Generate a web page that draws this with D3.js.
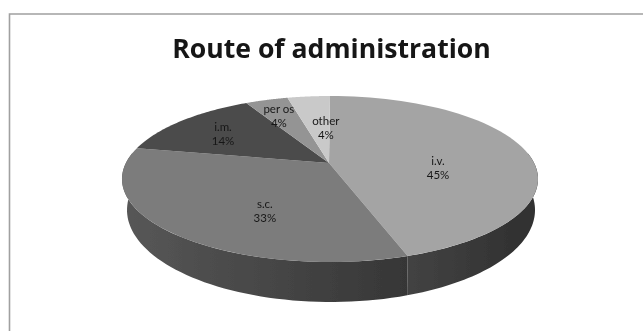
<!DOCTYPE html>
<html><head><meta charset="utf-8">
<script src="https://cdn.jsdelivr.net/npm/d3@7"></script>
<style>html,body{margin:0;padding:0;background:#fff;overflow:hidden}</style>
</head><body><script>
const title = "Route of administration";
const routes = ["i.v.", "s.c.", "i.m.", "per os", "other"];
const shares = [45, 33, 14, 4, 4];
const topColors = ["#a4a4a4", "#7b7b7b", "#4c4c4c", "#949494", "#c9c9c9"];
const sideStops = [["#434343", "#303030"], ["#565656", "#363636"]];
const labelReach = [0.54, 0.56, 0.62, 0.74, 0.5];
const labelNudge = [[3, 12], [24, 9], [-15, -3], [-4, 0], [7, -2]];

const W = 643, H = 331;
const svg = d3.select("body").append("svg").attr("width", W).attr("height", H)
  .style("display", "block").style("font-family", "Lato,sans-serif");
const defs = svg.append("defs");
const blur = defs.append("filter").attr("id", "soft").attr("x", "-5%").attr("y", "-5%").attr("width", "110%").attr("height", "110%");
blur.append("feGaussianBlur").attr("stdDeviation", 0.7);
const blurText = defs.append("filter").attr("id", "softText");
blurText.append("feGaussianBlur").attr("stdDeviation", 0.45);

svg.append("path").attr("d", `M9.5,${H}V14H${W}`).attr("fill", "none").attr("stroke", "#a0a0a0").attr("stroke-width", 1.6);
svg.append("text").attr("x", 331.5).attr("y", 58).attr("text-anchor", "middle").style("font-family", "'Open Sans',sans-serif")
  .attr("font-size", 26.6).attr("font-weight", 700).attr("fill", "#141414").attr("filter", "url(#softText)").text(title);

// unit-disc scales for the top rim and the lower rim of the drum
const topX = d3.scaleLinear().domain([-1, 1]).range([122, 538]);
const topY = d3.scaleLinear().domain([-1, 1]).range([96, 262]);
const lowX = d3.scaleLinear().domain([-1, 1]).range([127, 535]);
const lowY = d3.scaleLinear().domain([-1, 1]).range([118, 302]);

// perspective: a disc angle (0 = top, clockwise) maps onto the drawn ellipse with the hub moved upward
const hubShift = 0.1;
function rim(theta) {
  const re = Math.sin(theta), im = -Math.cos(theta), a = hubShift;
  const nr = re, ni = im - a;
  const Dr = 1 - a * im, Di = a * re;
  const m = Dr * Dr + Di * Di;
  return [(nr * Dr + ni * Di) / m, (ni * Dr - nr * Di) / m];
}
const hub = [topX(0) - 1, 163];

const pie = d3.pie().sort(null).startAngle(0).endAngle(2 * Math.PI);
const arcs = pie(shares);

function sweep(a0, a1) { return d3.range(0, 61).map(i => a0 + (a1 - a0) * i / 60); }

// side wall: visible where the rim runs along the front half
const frontStart = Math.PI / 2, frontEnd = 1.5 * Math.PI;
const side = svg.append("g").attr("filter", "url(#soft)");
const line = d3.line();
arcs.forEach((d, i) => {
  const a0 = Math.max(d.startAngle, frontStart - 0.12), a1 = Math.min(d.endAngle, frontEnd + 0.12);
  if (a1 <= a0) return;
  const gid = "wall" + i;
  const pair = sideStops[i] || sideStops[0];
  const g = defs.append("linearGradient").attr("id", gid).attr("gradientUnits", "userSpaceOnUse")
    .attr("x1", topX(rim(a1)[0])).attr("x2", topX(rim(a0)[0])).attr("y1", 0).attr("y2", 0);
  g.append("stop").attr("offset", 0).attr("stop-color", pair[0]);
  g.append("stop").attr("offset", 1).attr("stop-color", pair[1]);
  const s = sweep(a0, a1);
  const upper = s.map(t => { const p = rim(t); return [topX(p[0]), topY(p[1])]; });
  const lower = s.map(t => { const p = rim(t); return [lowX(p[0]), lowY(p[1])]; }).reverse();
  side.append("path").attr("d", line(upper.concat(lower)) + "Z").attr("fill", `url(#${gid})`);
});

// top face
const face = svg.append("g").attr("filter", "url(#soft)");
arcs.forEach((d, i) => {
  const pts = sweep(d.startAngle, d.endAngle).map(t => { const p = rim(t); return [topX(p[0]), topY(p[1])]; });
  face.append("path").attr("d", line([hub].concat(pts)) + "Z").attr("fill", topColors[i]);
});

// labels
const labels = svg.append("g").attr("text-anchor", "middle").attr("font-size", 11.5)
  .attr("fill", "#181818").attr("filter", "url(#softText)");
arcs.forEach((d, i) => {
  const p = rim((d.startAngle + d.endAngle) / 2);
  const x = hub[0] + labelReach[i] * (topX(p[0]) - hub[0]) + labelNudge[i][0];
  const y = hub[1] + labelReach[i] * (topY(p[1]) - hub[1]) + labelNudge[i][1];
  labels.append("text").attr("x", x).attr("y", y - 3).text(routes[i]);
  labels.append("text").attr("x", x).attr("y", y + 11).text(shares[i] + "%");
});
</script></body></html>
